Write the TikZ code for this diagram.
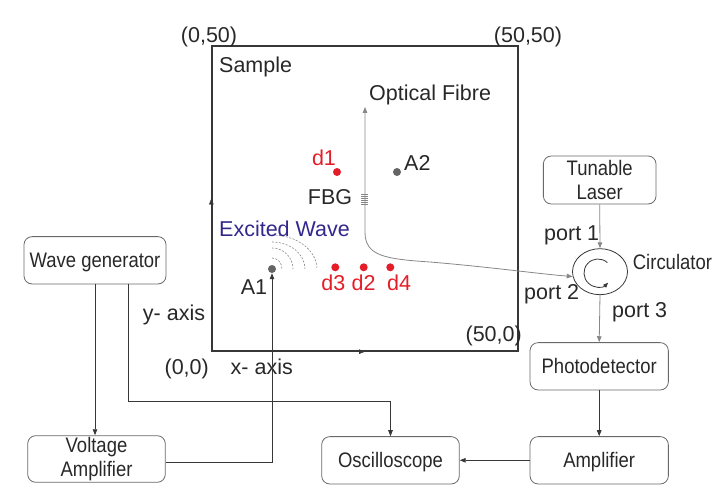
\documentclass[tikz,border=0pt]{standalone}
\usepackage{fontspec}
\setmainfont{Liberation Sans}
\newfontfamily\boxfont{Liberation Sans}[FakeStretch=0.88]
\usetikzlibrary{arrows.meta,shapes.geometric,decorations.markings}
\definecolor{txt}{RGB}{40,40,40}
\definecolor{dred}{RGB}{228,30,40}
\definecolor{wblue}{RGB}{50,40,140}
\definecolor{fib}{RGB}{135,135,135}
\definecolor{boxc}{RGB}{105,105,105}
\definecolor{linec}{RGB}{55,55,55}
\definecolor{dotgray}{RGB}{100,100,100}
\begin{document}
\begin{tikzpicture}[x=1pt,y=-1pt,
  box/.style={draw=boxc, line width=0.8pt, rounded corners=8pt, text=txt,
    font=\boxfont\fontsize{21}{24.3}\selectfont, align=center, inner sep=0pt},
  sline/.style={text height=15pt, text depth=0pt},
  lbl/.style={text=txt, font=\fontsize{21.5}{24}\selectfont, inner sep=0pt,
    text height=15.4pt, text depth=0pt},
  rlbl/.style={lbl, text=dred},
  tip/.style={-{Triangle[length=6pt,width=4.5pt]}},
  arr/.style={draw=linec, line width=0.8pt, tip},
  farr/.style={draw=fib, line width=0.8pt, tip},
  pt/.style={circle, fill=#1, inner sep=0pt, minimum size=8pt},
  wave/.style={draw=fib, line width=0.6pt, dash pattern=on 2pt off 1.5pt}
]
\useasboundingbox (0,0) rectangle (726,502);

% sample plate
\node[draw=linec, line width=1.3pt, minimum width=306pt, minimum height=305pt, inner sep=0pt] (sample) at (365,198.5) {};
\path[decorate, decoration={markings, mark=at position 0.5 with {\arrow[linec]{Triangle[length=6pt,width=4.5pt]}}}]
  (sample.south west) -- (sample.north west);
\path[decorate, decoration={markings, mark=at position 0.5 with {\arrow[linec]{Triangle[length=6pt,width=4.5pt]}}}]
  (sample.south west) -- (sample.south east);

% corner / axis labels
\node[lbl] (c050) at (209,35) {(0,50)};
\node[lbl] (c5050) at (528,35) {(50,50)};
\node[lbl, anchor=west] (samplelbl) at (219,65) {Sample};
\node[lbl] (c00) at (186.7,366.7) {(0,0)};
\node[lbl] (xaxis) at (261.8,366.7) {x- axis};
\node[lbl] (yaxis) at (174,313) {y- axis};
\node[lbl] (c500) at (493.7,334.3) {(50,0)};

% excited wave arcs
\foreach \rx/\ry in {10/11, 21/21, 33/27, 45/34}
  \draw[wave] (272,{269-\ry}) arc[start angle=-90, end angle=0, x radius=\rx, y radius=\ry];
\node[lbl, text=wblue, anchor=west] (exw) at (219,229) {Excited Wave};

% actuators and points
\node[pt=dotgray] (a1) at (272,269) {};
\node[lbl] (a1lbl) at (254,287) {A1};
\node[pt=dotgray] (a2) at (397,172) {};
\node[lbl, anchor=west] (a2lbl) at (404,163) {A2};
\node[pt=dred] (d1) at (337,172) {};
\node[rlbl] (d1lbl) at (324,158) {d1};
\node[pt=dred] (d3) at (335.3,267.3) {};
\node[pt=dred] (d2) at (363.7,267.3) {};
\node[pt=dred] (d4) at (390.3,267.3) {};
\node[rlbl] (d3lbl) at (333.3,283.3) {d3};
\node[rlbl] (d2lbl) at (363.7,283) {d2};
\node[rlbl] (d4lbl) at (399,282.7) {d4};

% boxes
\node[box, sline, minimum width=142pt, minimum height=47.3pt] (wg) at (95,260.3) {Wave generator};
\node[box, minimum width=137.6pt, minimum height=46.6pt] (va) at (96.5,459) {Voltage\\Amplifier};
\node[box, sline, minimum width=137.6pt, minimum height=47.3pt] (osc) at (390.5,460.3) {Oscilloscope};
\node[box, sline, minimum width=138.3pt, minimum height=47.3pt] (amp) at (599.2,460.3) {Amplifier};
\node[box, sline, minimum width=138.3pt, minimum height=47.3pt] (pd) at (599.2,366.3) {Photodetector};
\node[box, minimum width=112.7pt, minimum height=48pt] (laser) at (599.7,180) {Tunable\\Laser};

% circulator
\node[draw=linec, line width=0.8pt, ellipse, minimum width=55pt, minimum height=46pt, inner sep=0pt] (circ) at (600,271.7) {};
\coordinate (cc) at (598,273);
\draw[linec, line width=0.8pt, -{Triangle[length=5pt,width=4pt]}]
  ([shift={(-48:14)}]cc) arc[start angle=-48, end angle=-316, radius=14];
\node[lbl, font=\boxfont\fontsize{21}{24}\selectfont, anchor=west] (circlbl) at (632.7,261.7) {Circulator};
\node[lbl] (p1) at (571.7,233.3) {port 1};
\node[lbl] (p2) at (551.7,291.7) {port 2};
\node[lbl] (p3) at (639.7,310) {port 3};

% optical fibre
\coordinate (fibtop) at (365,107);
\node[lbl, anchor=west] (oflbl) at (369,93) {Optical Fibre};
\draw[draw=fib, line width=0.8pt, {Triangle[length=6pt,width=4.5pt]}-{Triangle[length=6pt,width=4.5pt]}]
  (fibtop) -- (365,232) .. controls (365,256) and (385,259) .. (430,262)
  .. controls (490,267) and (540,274) .. (circ.190);
\foreach \yy in {194,196,...,204}
  \draw[fib, line width=0.5pt] (361,\yy) -- (368,\yy);
\node[lbl] (fbg) at (330,197) {FBG};

% connectors
\draw[farr] (laser.south) -- (circ.north);
\draw[farr] (circ.south) -- (pd.north);
\draw[arr] (pd.south) -- (amp.north);
\draw[arr] (amp.west) -- (osc.east);
\draw[arr] (wg.south) -- (wg.south |- va.north);
\draw[arr] ([xshift=33pt]wg.south) -- ++(0,117.4) -| (osc.north);
\draw[arr] ([yshift=-3pt]va.east) -| (a1.south);
\end{tikzpicture}
\end{document}
